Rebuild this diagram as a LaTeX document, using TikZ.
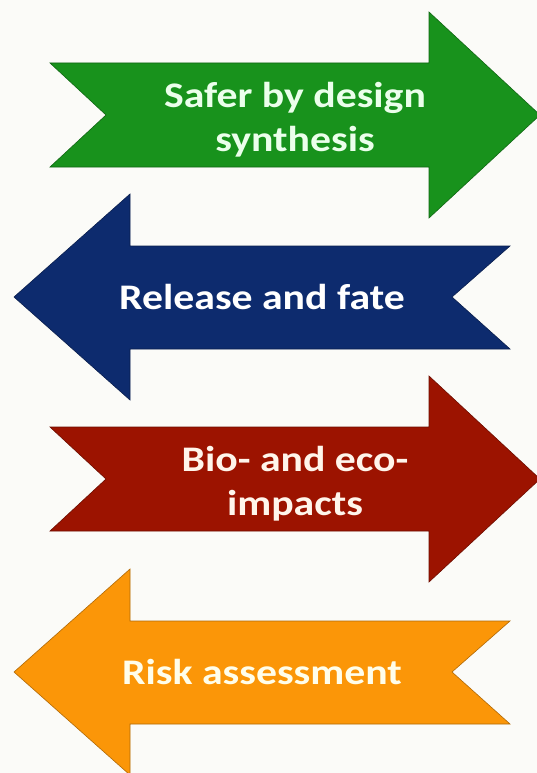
\documentclass[tikz,border=0pt]{standalone}
\usepackage{fontspec}
\newfontfamily\arrowfont{Carlito}[FakeStretch=1.16]

\definecolor{bgpaper}{HTML}{FBFBF8}
\definecolor{safegreen}{HTML}{18921C}
\definecolor{fateblue}{HTML}{0D2B6E}
\definecolor{impactred}{HTML}{9C1300}
\definecolor{riskorange}{HTML}{FB9608}

\tikzset{
  arrowbody/.style={fill=#1, draw=#1!70!black, line width=0.6pt, line join=miter},
  arrowtext/.style={text=#1, align=center, inner sep=0pt,
    font=\arrowfont\bfseries\fontsize{36}{44}\selectfont}
}

\begin{document}
\begin{tikzpicture}[x=1pt, y=-1pt]
    % Background
    \fill[bgpaper] (0,0) rectangle (537,773);
    \useasboundingbox (0,0) rectangle (537,773);

    % Arrows pointing right
    \foreach \c/\col/\txtcol/\txt in {115/safegreen/green!8!white/{Safer by design\\synthesis}, 479/impactred/orange!8!white/{Bio- and eco-\\impacts}} {
        \draw[arrowbody=\col] (50,\c-52) -- (429,\c-52) -- (429,\c-103) -- (540,\c)
            -- (429,\c+103) -- (429,\c+52) -- (50,\c+52) -- (106,\c) -- cycle;
        \node[arrowtext=\txtcol] (right\c) at (295,\c+5) {\txt};
    }

    % Arrows pointing left
    \foreach \c/\col/\txtcol/\txt in {297/fateblue/white/{Release and fate}, 672/riskorange/yellow!8!white/{Risk assessment}} {
        \draw[arrowbody=\col] (14,\c) -- (130,\c-103) -- (130,\c-51) -- (510,\c-51)
            -- (452,\c) -- (510,\c+52) -- (130,\c+52) -- (130,\c+103) -- cycle;
        \node[arrowtext=\txtcol] (left\c) at (262,\c) {\txt};
    }
\end{tikzpicture}
\end{document}
